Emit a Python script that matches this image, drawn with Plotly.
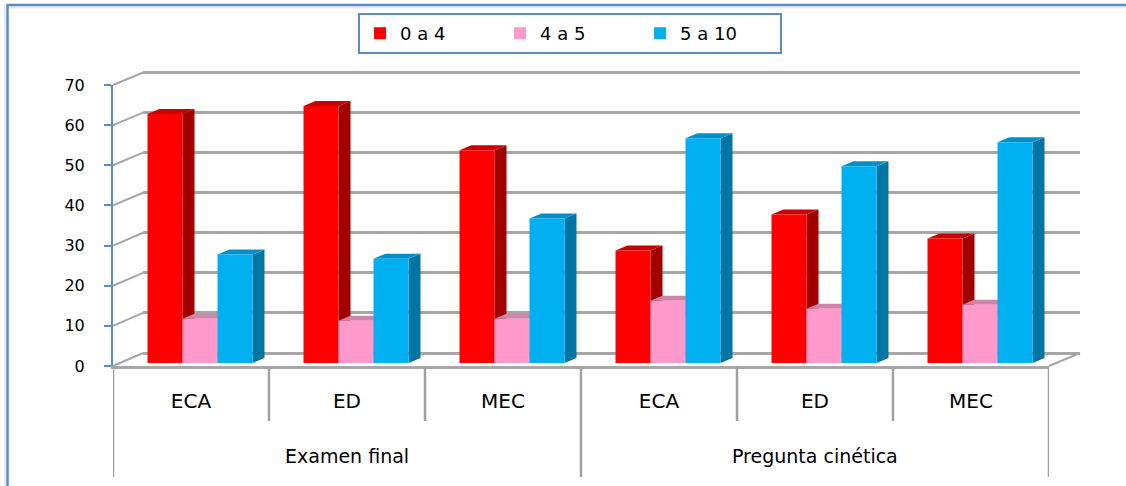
import plotly.graph_objects as go

# ---- data ----
grupos = ["Examen final", "Examen final", "Examen final",
          "Pregunta cinética", "Pregunta cinética", "Pregunta cinética"]
asignaturas = ["ECA", "ED", "MEC", "ECA", "ED", "MEC"]
series = ["0 a 4", "4 a 5", "5 a 10"]
v_0a4 = [62, 64, 53, 28, 37, 31]
v_4a5 = [11, 10.5, 11, 15.5, 13.5, 14.5]
v_5a10 = [27, 26, 36, 56, 49, 55]
y_ticks = [0, 10, 20, 30, 40, 50, 60, 70]

# ---- styling ----
W, H = 1126, 486
FONT = "DejaVu Sans"
front_col = ["#ff0000", "#ff99cc", "#00b0f0"]
side_col = ["#a00000", "#c0709a", "#0074a2"]
top_col = ["#c80000", "#d184aa", "#0090c8"]
GRID = "#a6a6a6"
BLUE = "#5b8bc9"

# pixel frames: front plane, bar plane and back wall (x-left, x-right, y-zero, y-max)
FRONT = (113, 1049, 366, 85)
BARS = (122, 1058, 363, 82)
BACK = (143, 1080, 353, 72.5)
DEPTH_PX = (12, 5)          # bar depth, drawn to the right and upwards
BARGAP = 0.327
GRID_PAD = 1.0              # keeps the 0 and 70 gridlines inside the back-wall range

n = len(asignaturas)
ymax = y_ticks[-1]
xr = [-0.5, n - 0.5]


def px(x):
    return x / W


def py(y):
    return 1 - y / H


def dom_x(f):
    return [px(f[0]), px(f[1])]


def dom_y(f, pad=0.0):
    s = (f[2] - f[3]) / ymax
    return [py(f[2] + pad * s), py(f[3] - pad * s)]


def frame_y(f, v):
    return f[2] - v * (f[2] - f[3]) / ymax


values = [v_0a4, v_4a5, v_5a10]
fig = go.Figure()
# empty trace so the back-wall subplot (and its gridlines) is laid out
fig.add_trace(go.Scatter(x=[None], y=[None], xaxis="x", yaxis="y",
                         showlegend=False, hoverinfo="skip"))
for i, (name, vals) in enumerate(zip(series, values)):
    fig.add_trace(go.Bar(
        x=list(range(n)), y=vals, name=name,
        marker=dict(color=front_col[i], line=dict(width=0)),
        xaxis="x2", yaxis="y2", hoverinfo="skip",
    ))

shapes = []
# side and top faces of each bar, in the bar plane's data units
bw = (1 - BARGAP) / len(series)
dxu = DEPTH_PX[0] / ((BARS[1] - BARS[0]) / n)
dyu = DEPTH_PX[1] / ((BARS[2] - BARS[3]) / ymax)
for k in range(n):
    for i, vals in enumerate(values):
        c = k + (i - (len(series) - 1) / 2) * bw
        xl, xrr, v = c - bw / 2, c + bw / 2, vals[k]
        shapes.append(dict(
            type="path", xref="x2", yref="y2", layer="below",
            path=f"M{xrr},0 L{xrr + dxu},{dyu} L{xrr + dxu},{v + dyu} L{xrr},{v} Z",
            fillcolor=side_col[i], line=dict(width=0)))
        shapes.append(dict(
            type="path", xref="x2", yref="y2", layer="below",
            path=f"M{xl},{v} L{xl + dxu},{v + dyu} L{xrr + dxu},{v + dyu} L{xrr},{v} Z",
            fillcolor=top_col[i], line=dict(width=0)))

# left side wall: lines joining the front axis ticks to the back-wall gridlines
for v in y_ticks:
    shapes.append(dict(type="line", xref="paper", yref="paper",
                       x0=px(FRONT[0]), y0=py(frame_y(FRONT, v)),
                       x1=px(BACK[0]), y1=py(frame_y(BACK, v)),
                       line=dict(color=GRID, width=2)))
# right edge of the floor
shapes.append(dict(type="line", xref="paper", yref="paper",
                   x0=px(FRONT[1]), y0=py(FRONT[2]), x1=px(BACK[1]), y1=py(BACK[2]),
                   line=dict(color=GRID, width=2)))

# category dividers below the floor
for k in range(n + 1):
    is_group = k == 0 or k == n or grupos[k] != grupos[k - 1]
    shapes.append(dict(type="line", xref="x3", yref="paper",
                       x0=k - 0.5, x1=k - 0.5, y0=py(FRONT[2]),
                       y1=py(477 if is_group else 421),
                       line=dict(color="#a0a0a0", width=2.5)))

# chart border
shapes.append(dict(type="line", xref="paper", yref="paper",
                   x0=px(5), x1=px(5), y0=py(6), y1=-0.05,
                   line=dict(color="#e3ecf6", width=2)))
shapes.append(dict(type="line", xref="paper", yref="paper",
                   x0=px(9), x1=1.05, y0=py(7.5), y1=py(7.5),
                   line=dict(color="#e3ecf6", width=2)))
shapes.append(dict(type="rect", xref="paper", yref="paper",
                   x0=px(7.5), y0=py(5), x1=1.05, y1=-0.05,
                   line=dict(color=BLUE, width=2.5), fillcolor="rgba(0,0,0,0)"))

# group labels centred under their categories
annotations = []
seen = []
for g in grupos:
    if g not in seen:
        seen.append(g)
for g in seen:
    idx = [k for k, gg in enumerate(grupos) if gg == g]
    annotations.append(dict(x=sum(idx) / len(idx), xref="x3", y=py(456), yref="paper",
                            text=g, showarrow=False, yanchor="middle",
                            font=dict(family=FONT, size=19, color="#000000")))

hidden = dict(showgrid=False, zeroline=False, showline=False,
              showticklabels=False, ticks="", automargin=False)

fig.update_layout(
    template="none",
    width=W, height=H,
    margin=dict(l=0, r=0, t=0, b=0, pad=0, autoexpand=False),
    paper_bgcolor="white", plot_bgcolor="rgba(0,0,0,0)",
    barmode="group", bargap=BARGAP, bargroupgap=0,
    font=dict(family=FONT, color="#000000"),
    showlegend=True,
    legend=dict(orientation="h", x=px(570), xanchor="center", y=py(13), yanchor="top",
                bordercolor=BLUE, borderwidth=2, bgcolor="white",
                font=dict(family=FONT, size=18), entrywidth=95, entrywidthmode="pixels",
                traceorder="normal"),
    # back wall (gridlines)
    xaxis=dict(domain=dom_x(BACK), range=xr, anchor="y", **hidden),
    yaxis=dict(domain=dom_y(BACK, GRID_PAD), range=[-GRID_PAD, ymax + GRID_PAD],
               anchor="x", showgrid=True, gridcolor=GRID, gridwidth=2.5,
               tickvals=y_ticks, zeroline=False, showline=False,
               showticklabels=False, ticks="", automargin=False),
    # bar plane
    xaxis2=dict(domain=dom_x(BARS), range=xr, anchor="y2", **hidden),
    yaxis2=dict(domain=dom_y(BARS), range=[0, ymax], anchor="x2", **hidden),
    # front plane (axis lines and labels)
    xaxis3=dict(domain=dom_x(FRONT), range=xr, anchor="y3",
                tickvals=list(range(n)), ticktext=asignaturas, ticks="",
                showline=True, linecolor=GRID, linewidth=2.5,
                showgrid=False, zeroline=False, ticklabelstandoff=15,
                tickfont=dict(family=FONT, size=20), automargin=False),
    yaxis3=dict(domain=dom_y(FRONT), range=[0, ymax], anchor="x3",
                tickvals=y_ticks, ticks="outside", ticklen=7, tickwidth=2,
                tickcolor=BLUE, showline=True, linecolor=BLUE, linewidth=2,
                showgrid=False, zeroline=False, ticklabelstandoff=16,
                tickfont=dict(family=FONT, size=16), automargin=False),
    shapes=shapes,
    annotations=annotations,
)

fig.write_html("out.html")
